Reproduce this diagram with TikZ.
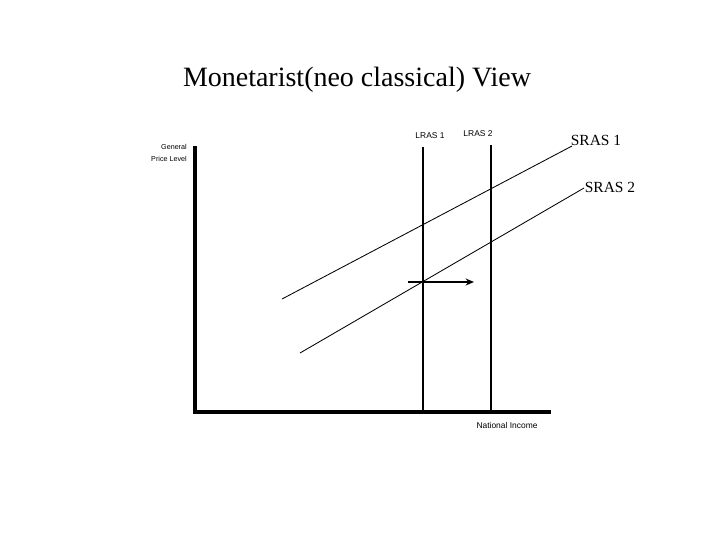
\documentclass[tikz,border=0pt]{standalone}
\usepackage{fontspec}
\setmainfont{Liberation Serif}
\setsansfont{Liberation Sans}
\usetikzlibrary{arrows.meta}

\begin{document}
\begin{tikzpicture}[x=0.025cm, y=-0.025cm]
  \tikzset{
      axis/.style={line width=2.2pt, line cap=rect},
      lras/.style={line width=2pt},
      sras/.style={line width=0.6pt},
      shiftarrow/.style={line width=1.3pt, -{Stealth[length=6pt,width=5pt]}},
      tag/.style={font=\sffamily\fontsize{6}{7}\selectfont, inner sep=0pt},
      curvetag/.style={font=\fontsize{11}{13}\selectfont, inner sep=0pt}
  }
  \useasboundingbox (0,0) rectangle (720,540);

  % title
  \node[font=\fontsize{19.9}{22}\selectfont, inner sep=0pt] (title) at (357,80) {Monetarist(neo classical) View};

  % axes
  \coordinate (origin) at (195,412);
  \coordinate (ytop) at (195,148);
  \coordinate (xend) at (549,412);
  \draw[axis] (ytop) -- (origin) -- (xend);
  \node[tag, anchor=east, align=right, font=\sffamily\fontsize{5.1}{8.5}\selectfont] (ylab) at (187,153) {General\\Price Level};
  \node[tag] (xlab) at (507,425) {National Income};

  % long run supply
  \coordinate (l1top) at (423,147);
  \coordinate (l1bot) at (423,412);
  \coordinate (l2top) at (491,145);
  \coordinate (l2bot) at (491,412);
  \draw[lras] (l1top) -- (l1bot);
  \draw[lras] (l2top) -- (l2bot);
  \node[tag] (lras1) at (430,136) {LRAS 1};
  \node[tag] (lras2) at (478,134) {LRAS 2};

  % short run supply
  \coordinate (s1a) at (282,299);
  \coordinate (s1b) at (572,146);
  \coordinate (s2a) at (300,353);
  \coordinate (s2b) at (584,188);
  \draw[sras] (s1a) -- (s1b);
  \draw[sras] (s2a) -- (s2b);
  \node[curvetag] (sras1) at (596,140) {SRAS 1};
  \node[curvetag] (sras2) at (610,187) {SRAS 2};

  % shift
  \coordinate (shfrom) at (408,282);
  \coordinate (shto) at (474,282);
  \draw[shiftarrow] (shfrom) -- (shto);
\end{tikzpicture}
\end{document}
